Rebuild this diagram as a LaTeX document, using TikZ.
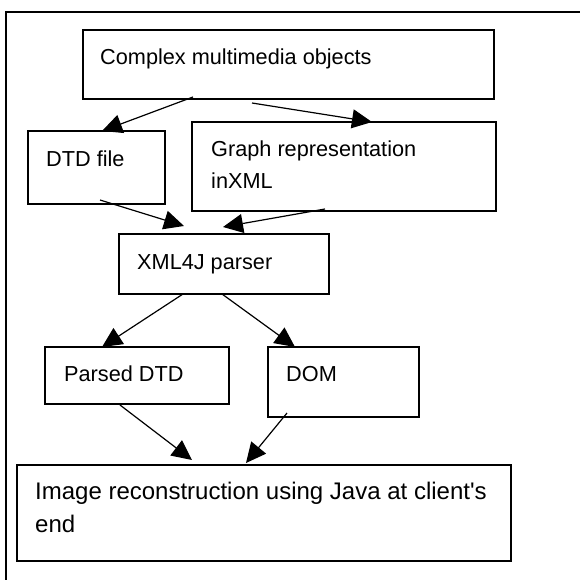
\documentclass[tikz,border=0pt]{standalone}
\usepackage{fontspec}
\setmainfont{Liberation Sans}[Ligatures=TeXOff]
\usetikzlibrary{arrows.meta,calc}
\begin{document}
\begin{tikzpicture}[x=1pt,y=-1pt,
  box/.style={draw=black,line width=1.4pt,rectangle,inner sep=0pt,outer sep=0pt,anchor=north west},
  lbl/.style={anchor=base west,inner sep=0pt,font=\fontsize{21.7}{26}\selectfont},
  biglbl/.style={anchor=base west,inner sep=0pt,font=\fontsize{24}{29}\selectfont},
  arr/.style={draw=black,line width=1.2pt,-{Triangle[length=20pt 0,width=19pt 0]}},
  frame/.style={draw=black,line width=1.6pt}]
\useasboundingbox (0,0) rectangle (580,580);
\draw[frame] (6,580) -- (6,12) -- (580,12);
% boxes
\node[box,minimum width=411pt,minimum height=69pt] (cmo) at (83,30) {};
\node[box,minimum width=137pt,minimum height=73pt] (dtd) at (28,131) {};
\node[box,minimum width=304pt,minimum height=89pt] (graph) at (192,122) {};
\node[box,minimum width=210pt,minimum height=60pt] (parser) at (119,234) {};
\node[box,minimum width=184pt,minimum height=57pt] (pdtd) at (45,347) {};
\node[box,minimum width=151pt,minimum height=70pt] (dom) at (268,347) {};
\node[box,minimum width=494pt,minimum height=96pt] (img) at (17,465) {};
% texts
\node[lbl] (tcmo) at (100,65) {Complex multimedia objects};
\node[lbl] (tdtd) at (46,167) {DTD file};
\node[lbl] (tgraphA) at (211,157) {Graph representation};
\node[lbl] (tgraphB) at (211,188) {inXML};
\node[lbl] (tparser) at (137,269) {XML4J parser};
\node[lbl] (tpdtd) at (64,381) {Parsed DTD};
\node[lbl] (tdom) at (286,381) {DOM};
\node[biglbl] (timgA) at (35,499) {Image reconstruction using Java at client's};
\node[biglbl] (timgB) at (35,532) {end};
% arrows
\draw[arr] ($(cmo.south west)+(110,-2)$) -- ($(dtd.north west)+(74,0)$);
\draw[arr] ($(cmo.south west)+(169,4)$) -- ($(graph.north west)+(180,0)$);
\draw[arr] ($(dtd.south west)+(72,-4)$) -- ($(parser.north west)+(65,-8)$);
\draw[arr] ($(graph.south west)+(133,-2)$) -- ($(parser.north west)+(104,-7)$);
\draw[arr] ($(parser.south west)+(64,0)$) -- ($(pdtd.north west)+(57,0)$);
\draw[arr] ($(parser.south west)+(103,0)$) -- ($(dom.north west)+(27,0)$);
\draw[arr] ($(pdtd.south west)+(75,1)$) -- ($(img.north west)+(175,-5)$);
\draw[arr] ($(dom.south west)+(19,-4)$) -- ($(img.north west)+(229,-2)$);
\end{tikzpicture}
\end{document}
